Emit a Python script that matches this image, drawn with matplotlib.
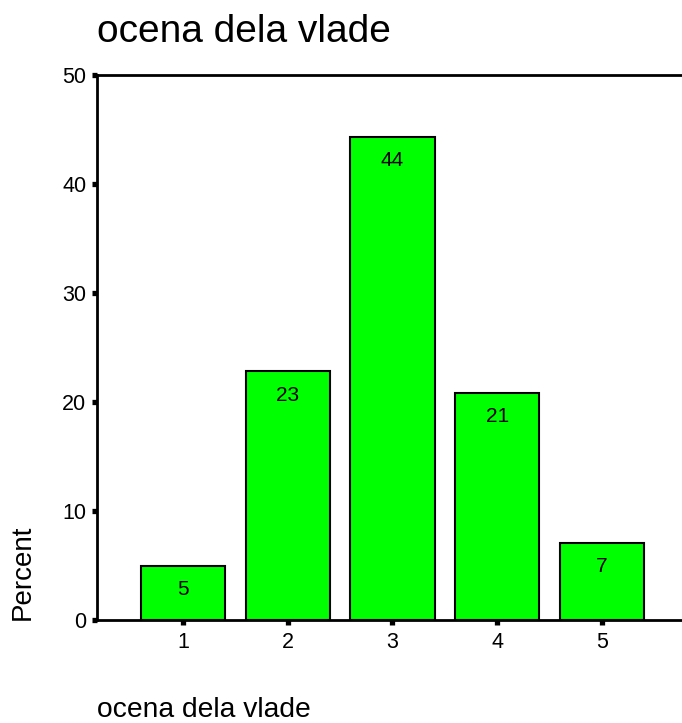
import matplotlib
matplotlib.use("Agg")
import matplotlib.pyplot as plt

plt.rcParams['font.family'] = ['Liberation Sans', 'DejaVu Sans']

# ocena dela vlade - percent per grade
categories = [1, 2, 3, 4, 5]
percent = [5.0, 22.8, 44.3, 20.8, 7.1]
yticks = [0, 10, 20, 30, 40, 50]

W, H = 682, 723
fig = plt.figure(figsize=(W / 100, H / 100), dpi=100)
ax = fig.add_axes([97 / W, 1 - 620 / H, 1 - 97 / W, (620 - 75) / H])

bars = ax.bar(categories, percent, width=0.805, color='#00ff00',
              edgecolor='black', linewidth=1.5, zorder=2)

for x, v in zip(categories, percent):
    ax.annotate(f"{v:.0f}", (x, v), xytext=(0, -21), textcoords='offset points',
                ha='center', va='baseline', fontsize=15)

ax.set_xlim(0.179, 5.764)
ax.set_ylim(0, 50)
ax.set_xticks(categories)
ax.set_yticks(yticks)
ax.tick_params(direction='out', length=3.8, width=3.8, labelsize=15.5)
ax.tick_params(axis='x', pad=5)
ax.tick_params(axis='y', pad=4)

ax.spines['right'].set_visible(False)
for s in ['left', 'top', 'bottom']:
    ax.spines[s].set_linewidth(2)

fig.text(97 / W, 1 - 42 / H, "ocena dela vlade", fontsize=28,
         ha='left', va='baseline')
fig.text(97 / W, 1 - 717 / H, "ocena dela vlade", fontsize=20.3,
         ha='left', va='baseline')
fig.text(23 / W, 1 - 620 / H, "Percent", fontsize=20, rotation=90,
         ha='center', va='bottom')

fig.savefig("out.png", dpi=100)
